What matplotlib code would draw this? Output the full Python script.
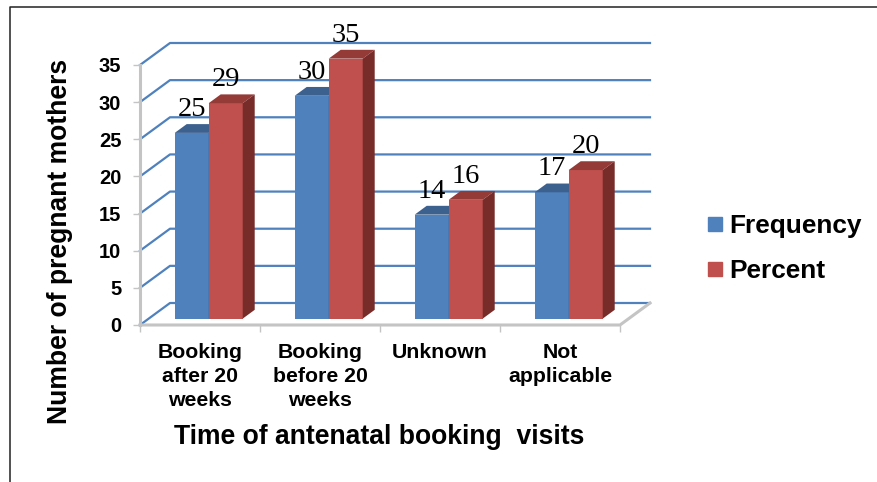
import matplotlib
matplotlib.use('Agg')
import matplotlib.pyplot as plt
from matplotlib.lines import Line2D
from matplotlib.patches import Polygon

plt.rcParams['font.family'] = ['Liberation Sans', 'DejaVu Sans']

categories = ['Booking\nafter 20\nweeks', 'Booking\nbefore 20\nweeks', 'Unknown', 'Not\napplicable']
frequency = [25, 30, 14, 17]
percent = [29, 35, 16, 20]
y_ticks = [0, 5, 10, 15, 20, 25, 30, 35]

W, H = 878, 482
# wall offset of the fake 3d box, in data units (30 px right, 22 px up)
DX = 30 / 120
DY = 22 / (260 / 35)
BAR_W = 34 / 120
D0, D1 = 0.29, 0.69  # front and back of the bars inside the box

GRID = '#4f81bd'
GREY = '#c4c4c4'

fig = plt.figure(figsize=(W / 100, H / 100), dpi=100)
ax = fig.add_axes([140 / W, (H - 325) / H, 480 / W, 260 / H])
n = len(categories)
ax.set_xlim(0, n)
ax.set_ylim(0, 35)
for s in ax.spines.values():
    s.set_visible(False)
ax.patch.set_visible(False)

# walls and gridlines
for v in y_ticks:
    ax.plot([0, DX, n + DX], [v, v + DY, v + DY], color=GRID, lw=1.6, clip_on=False, zorder=1)

# box edges
ax.plot([0, 0], [0, 35], color=GREY, lw=2.2, clip_on=False, zorder=2)
ax.plot([0, n, n + DX], [0, 0, DY], color=GREY, lw=2.2, clip_on=False, zorder=2)


def bar3d(x, v, front, top, side):
    x0, x1 = x + D0 * DX, x + BAR_W + D0 * DX
    ys = D0 * DY
    d = D1 - D0
    ax.bar(x0, v, BAR_W, bottom=ys, align='edge', color=front, zorder=3, clip_on=False)
    ax.add_patch(Polygon([(x0, ys + v), (x1, ys + v), (x1 + d * DX, ys + v + d * DY), (x0 + d * DX, ys + v + d * DY)],
                         closed=True, fc=top, ec='none', clip_on=False, zorder=3))
    ax.add_patch(Polygon([(x1, ys), (x1 + d * DX, ys + d * DY), (x1 + d * DX, ys + v + d * DY), (x1, ys + v)],
                         closed=True, fc=side, ec='none', clip_on=False, zorder=3))
    ax.annotate(str(v), (x0 + BAR_W / 2, ys + v), xytext=(0, 12.3), textcoords='offset points', ha='center',
                va='baseline', fontsize=20.5, family=['Liberation Serif'], color='black', zorder=5,
                annotation_clip=False)


for i in range(n):
    left = i + 0.5 - BAR_W
    bar3d(left, frequency[i], '#4f81bd', '#3c618f', '#3c618f')
    bar3d(left + BAR_W, percent[i], '#c0504d', '#943a37', '#772c2a')

# axes ticks
ax.set_xticks(range(n + 1))
ax.set_xticklabels([])
ax.set_xticks([i + 0.5 for i in range(n)], minor=True)
ax.set_xticklabels(categories, minor=True, fontsize=15.3, fontweight='bold', linespacing=1.32)
ax.tick_params(axis='x', which='major', length=5, width=1, color=GREY)
ax.tick_params(axis='x', which='minor', length=0, pad=13)
ax.set_yticks(y_ticks)
ax.tick_params(axis='y', length=5, width=1, color=GREY, labelsize=14.5, pad=8.5)
for t in ax.get_yticklabels():
    t.set_fontweight('bold')

ax.set_xlabel('Time of antenatal booking  visits', fontsize=19.1, fontweight='bold', va='center')
ax.xaxis.set_label_coords(239 / 480, -112 / 260)
ax.set_ylabel('Number of pregnant mothers', fontsize=19.1, fontweight='bold', va='center')
ax.yaxis.set_label_coords(-80 / 480, 84 / 260)

# legend
handles = [Line2D([], [], ls='none', marker='s', ms=10.5, color='#4f81bd'),
           Line2D([], [], ls='none', marker='s', ms=10.5, color='#c0504d')]
fig.legend(handles, ['Frequency', 'Percent'], loc='center left', bbox_to_anchor=(701 / W, (H - 249) / H),
           frameon=False, prop={'size': 18.9, 'weight': 'bold'}, labelspacing=0.8, handlelength=1.1,
           handletextpad=-0.02, borderpad=0, borderaxespad=0)

# frame around the picture
fig.add_artist(Line2D([10 / W, 10 / W, 1], [0, (H - 7) / H, (H - 7) / H], color='#222222', lw=1.1))

fig.savefig('out.png', dpi=100)
